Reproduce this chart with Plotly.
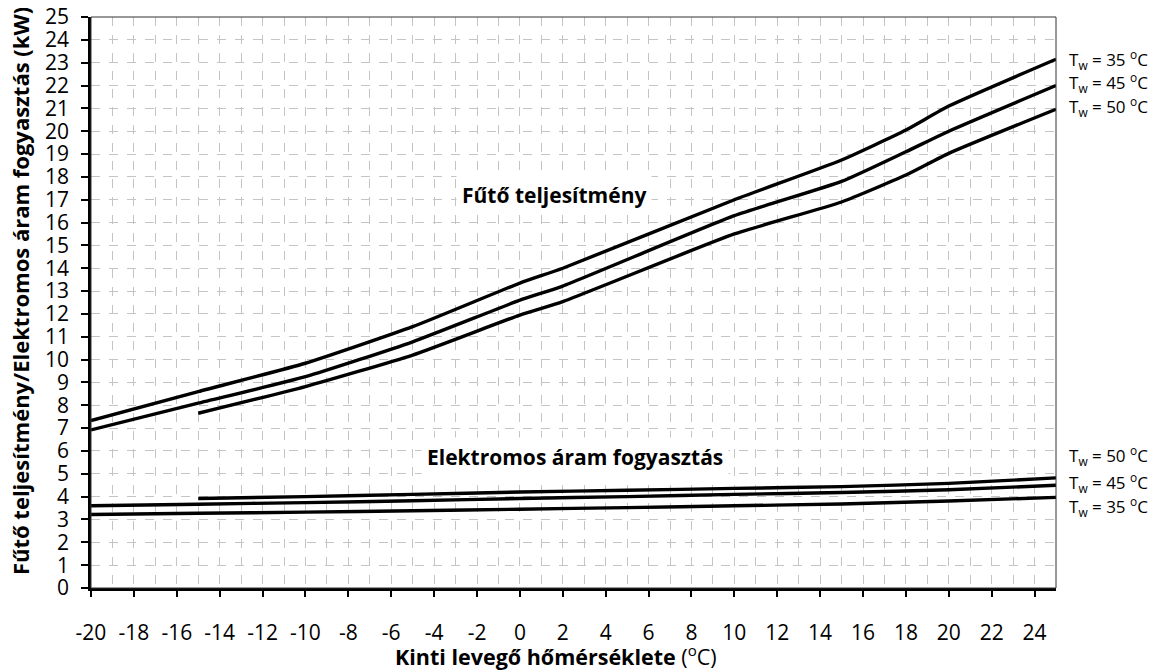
import plotly.graph_objects as go

# ---- data ----
heat_x = [-20, -15, -10, -5, 0, 2, 10, 15, 18, 20, 25]
heat_35 = [7.33, 8.6, 9.84, 11.44, 13.35, 14.0, 17.0, 18.74, 20.05, 21.1, 23.15]
heat_45 = [6.92, 8.09, 9.25, 10.78, 12.6, 13.22, 16.3, 17.8, 19.1, 20.0, 22.0]
heat_50_x = [-15, -10, -5, 0, 2, 10, 15, 18, 20, 25]
heat_50 = [7.65, 8.82, 10.2, 11.95, 12.54, 15.5, 16.9, 18.08, 19.03, 20.96]

pow_x = [-20, -15, -10, -5, 0, 5, 10, 15, 20, 25]
pow_35 = [3.22, 3.27, 3.32, 3.38, 3.45, 3.52, 3.6, 3.68, 3.81, 3.97]
pow_45 = [3.6, 3.67, 3.74, 3.82, 3.92, 4.0, 4.1, 4.18, 4.3, 4.5]
pow_50_x = [-15, -10, -5, 0, 5, 10, 15, 20, 25]
pow_50 = [3.92, 4.0, 4.1, 4.2, 4.28, 4.36, 4.44, 4.58, 4.82]

x_ticks = list(range(-20, 25, 2))
y_ticks = list(range(0, 26, 1))

heat_labels = ["35", "45", "50"]
heat_label_y = [23.15, 22.15, 21.1]
pow_labels = ["50", "45", "35"]
pow_label_y = [5.78, 4.6, 3.55]

section_labels = ["Fűtő teljesítmény", "Elektromos áram fogyasztás"]
section_x = [1.6, 2.55]
section_y = [17.2, 5.72]
section_size = [21, 21]

x_title = "<b>Kinti levegő hőmérséklete</b> (<sup>o</sup>C)"
y_title = "<b>Fűtő teljesítmény/Elektromos áram fogyasztás (kW)</b>"

FONT = "Open Sans"

fig = go.Figure()
line_style = dict(color="black", width=3.4, shape="spline", smoothing=0.5)
for xs, ys in [(heat_x, heat_35), (heat_x, heat_45), (heat_50_x, heat_50),
               (pow_x, pow_35), (pow_x, pow_45), (pow_50_x, pow_50)]:
    fig.add_trace(go.Scatter(x=xs, y=ys, mode="lines", line=line_style,
                             showlegend=False, hoverinfo="skip"))

annotations = []
for txt, xx, yy, sz in zip(section_labels, section_x, section_y, section_size):
    annotations.append(dict(x=xx, y=yy, xref="x", yref="y", text="<b>" + txt + "</b>",
                            showarrow=False, bgcolor="white", borderpad=5,
                            xanchor="center", yanchor="middle",
                            font=dict(family=FONT, size=sz, color="black")))
for lbl, yy in list(zip(heat_labels, heat_label_y)) + list(zip(pow_labels, pow_label_y)):
    annotations.append(dict(x=1.011, y=yy, xref="paper", yref="y",
                            xanchor="left", yanchor="middle",
                            text="T<sub>w</sub> = " + lbl + " <sup>o</sup>C",
                            showarrow=False,
                            font=dict(family=FONT, size=17, color="black")))
annotations.append(dict(x=0.482, y=-0.119, xref="paper", yref="paper", text=x_title,
                        xanchor="center", yanchor="middle",
                        showarrow=False, font=dict(family=FONT, size=21.5, color="black")))
annotations.append(dict(x=-0.0736, y=0.52, xref="paper", yref="paper", text=y_title,
                        xanchor="center", yanchor="middle",
                        textangle=-90, showarrow=False,
                        font=dict(family=FONT, size=22, color="black")))

# the page body adds an 8px offset, so the figure is 8px smaller and margins shifted
fig.update_layout(
    width=1153, height=662,
    margin=dict(l=83, r=105, t=9, b=82, autoexpand=False),
    paper_bgcolor="white", plot_bgcolor="white",
    font=dict(family=FONT, size=21, color="black"),
    annotations=annotations,
    shapes=[dict(type="rect", xref="paper", yref="paper", x0=0, x1=1, y0=0, y1=1,
                 line=dict(color="#333333", width=1), layer="above")],
)
fig.update_xaxes(
    range=[-20, 25], tickvals=x_ticks, ticktext=[str(v) for v in x_ticks],
    showline=True, linecolor="black", linewidth=2.5,
    ticks="outside", ticklen=6, tickwidth=2, tickcolor="black",
    ticklabelstandoff=18, automargin=False, ticklabeloverflow="allow",
    showgrid=True, gridcolor="#c4c4c4", griddash="dash", gridwidth=1,
    minor=dict(dtick=1, showgrid=True, gridcolor="#c4c4c4", griddash="dash", gridwidth=1),
    zeroline=False,
)
fig.update_yaxes(
    range=[0, 25], tickvals=y_ticks,
    showline=True, linecolor="black", linewidth=2.5,
    ticks="outside", ticklen=7, tickwidth=2, tickcolor="black",
    ticklabelstandoff=8, automargin=False, ticklabeloverflow="allow",
    showgrid=True, gridcolor="#c4c4c4", griddash="dash", gridwidth=1,
    zeroline=False,
)

fig.write_html("out.html")
